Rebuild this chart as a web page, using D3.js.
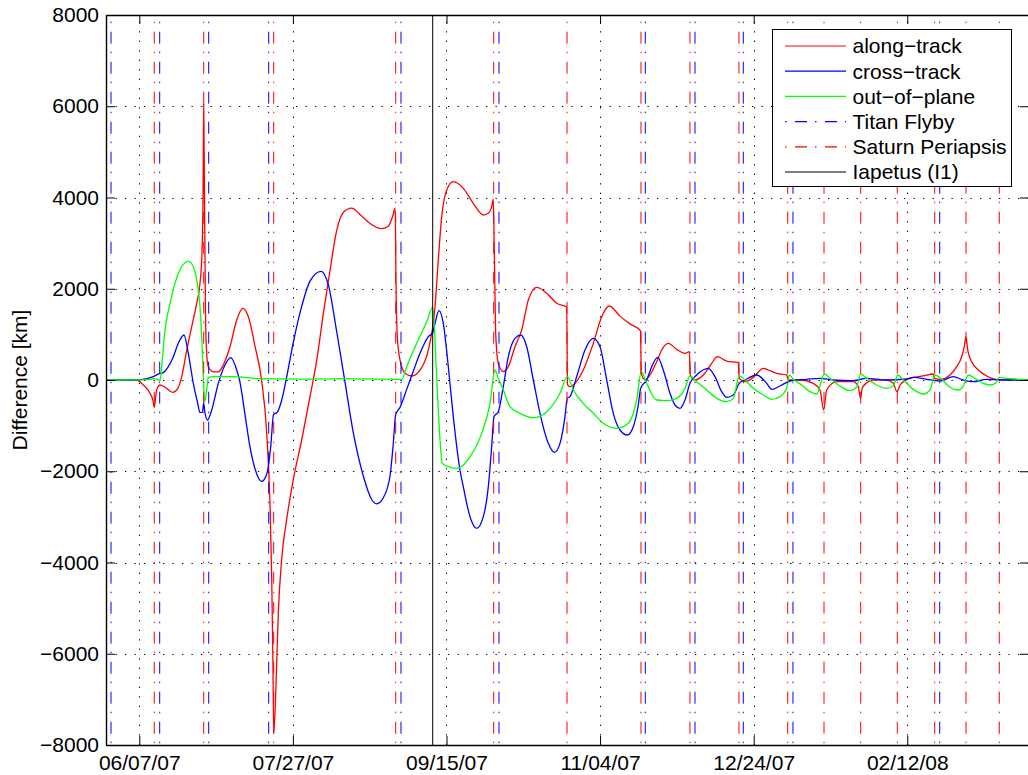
<!DOCTYPE html>
<html>
<head>
<meta charset="utf-8">
<script src="https://cdn.jsdelivr.net/npm/d3@7"></script>
<style>
  body { margin: 0; background: #fff; }
  svg { display: block; }
</style>
</head>
<body>
<svg id="chart" width="1028" height="775"></svg>
<script>
// Time is stored as days after 06/07/07 00:00 UTC
const epoch = Date.UTC(2007, 5, 7);
const xDomainDays = [-10.84, 289.62];
const xTickLabels = ["06/07/07", "07/27/07", "09/15/07", "11/04/07", "12/24/07", "02/12/08"];
const yTicks = [-8000, -6000, -4000, -2000, 0, 2000, 4000, 6000, 8000];

// Event epochs (days after 06/07/07)
const titanFlybyDays = [-9.21, 6.64, 22.59, 42.12, 85.19, 117.09, 164.71, 180.89, 196.61, 212.79, 260.55];
const saturnPeriapsisDays = [4.88, 20.96, 43.75, 83.46, 115.36, 139.23, 163.31, 179.26, 195.21, 211.07, 222.89, 234.83, 246.74, 258.92, 269.11, 279.95];
const iapetusDay = 95.51;

// Position differences [day, km]
const alongTrack = [
  [-10.84,0],[-0.85,0],[1.30,-110],[3.48,-290],[4.46,-450],[4.88,-600],[5.27,-400],[5.76,-200],[6.74,-110],[8.37,-160],
  [10.87,-270],[12.17,-220],[13.80,70],[15.43,650],[17.06,1170],[18.68,1680],[19.76,2120],[20.41,2800],[20.74,4000],[20.96,6050],
  [21.22,4000],[21.55,1500],[21.88,650],[22.46,290],[24.09,180],[25.72,180],[27.34,330],[29.52,730],[31.71,1315],[33.66,1570],
  [35.48,1390],[37.66,745],[39.84,-20],[41.47,-1155],[42.55,-2740],[43.10,-4320],[43.52,-6300],[43.75,-7750],[44.50,-6690],[45.25,-5110],
  [46.35,-3920],[47.98,-3055],[50.13,-2180],[52.86,-1315],[55.57,-365],[57.75,430],[59.90,1455],[62.08,2400],[64.26,3280],[66.41,3670],
  [69.14,3765],[71.84,3630],[75.10,3430],[78.91,3316],[81.05,3371],[82.49,3590],[83.30,3765],[83.56,2120],[83.98,950],[84.86,440],
  [86.49,146],[88.67,88],[91.37,219],[94.08,658],[96.26,1607],[97.33,2630],[98.44,3580],[100.07,4164],[102.21,4347],[105.47,4201],
  [108.72,3872],[111.98,3616],[113.61,3653],[114.71,3799],[115.23,3961],[115.56,2849],[116.02,1023],[116.86,365],[118.49,183],[120.12,292],
  [122.30,730],[124.48,1096],[126.63,1753],[129.36,2031],[132.62,1900],[135.87,1681],[139.13,1600],[139.39,-100],[140.20,-146],[141.83,-73],
  [144.53,219],[147.79,803],[150.52,1388],[153.00,1622],[156.48,1400],[159.73,1230],[163.15,1075],[163.41,150],[164.62,0],[166.24,110],
  [168.42,400],[170.05,658],[172.20,804],[174.93,672],[177.64,585],[179.04,621],[179.36,110],[180.89,0],[183.59,110],[186.33,365],
  [188.15,511],[191.21,416],[194.99,380],[195.31,37],[197.17,-37],[199.87,58],[203.13,256],[204.75,219],[207.49,146],[210.74,110],
  [211.26,0],[215.07,0],[219.40,-73],[221.58,-219],[222.79,-658],[223.76,-219],[227.02,-37],[232.42,-37],[234.05,-146],[234.77,-402],
  [235.42,-160],[238.93,0],[243.29,0],[245.44,-73],[246.65,-256],[247.62,-110],[250.88,37],[255.21,88],[258.46,131],[258.92,37],
  [260.64,15],[263.89,110],[266.08,292],[267.71,511],[268.55,730],[269.11,950],[269.66,658],[270.96,402],[273.11,219],[275.85,88],
  [279.10,15],[289.62,0]
];

const crossTrack = [
  [-10.84,0],[-0.85,0],[2.41,29],[4.56,73],[6.18,131],[7.81,161],[9.44,292],[11.07,511],[12.70,804],[14.55,986],
  [15.95,585],[17.58,-73],[19.01,-511],[19.76,-716],[20.57,-700],[20.96,-500],[21.22,-650],[22.20,-877],[23.57,-658],[25.72,-73],
  [27.90,329],[29.75,489],[31.71,219],[32.78,-50],[34.41,-760],[36.03,-1468],[37.66,-1946],[39.84,-2223],[41.47,-2065],[42.77,-1468],
  [43.69,-760],[44.92,-704],[46.35,-443],[47.98,70],[50.13,822],[52.86,1613],[55.57,2168],[59.15,2382],[61.52,2089],[64.26,1061],
  [66.96,-48],[69.66,-1155],[72.92,-2104],[75.65,-2619],[77.28,-2713],[79.43,-2580],[81.61,-2104],[82.68,-1392],[83.46,-760],[84.86,-601],
  [87.04,-206],[89.19,191],[91.37,584],[94.08,950],[95.51,1037],[96.26,1242],[97.56,1519],[98.96,1242],[100.59,292],[102.21,-803],
  [104.39,-1973],[105.47,-2338],[107.65,-2996],[109.83,-3251],[111.98,-2996],[113.61,-2338],[114.71,-1461],[115.46,-803],[116.86,-694],[118.49,-146],
  [120.12,511],[122.30,913],[124.15,986],[126.11,730],[128.26,0],[130.44,-730],[133.14,-1388],[135.09,-1585],[136.95,-1388],[138.57,-803],
  [139.32,-402],[140.20,-365],[142.38,73],[145.08,658],[147.79,913],[149.97,730],[152.15,0],[154.30,-730],[156.48,-1096],[158.85,-1205],
  [160.81,-1023],[162.43,-548],[163.22,-180],[165.17,0],[166.80,292],[168.75,497],[170.57,219],[172.75,-292],[174.38,-548],[176.01,-621],
  [177.64,-438],[179.26,-73],[181.45,110],[185.22,256],[187.40,73],[189.58,-256],[191.21,-380],[193.36,-329],[195.31,-73],[197.17,0],
  [200.98,110],[204.23,-73],[205.86,-205],[208.56,-132],[211.82,-22],[217.25,15],[221.58,37],[225.91,0],[232.42,-15],[236.78,37],
  [243.29,0],[249.80,22],[251.95,58],[256.32,15],[260.64,-22],[264.97,73],[268.23,0],[271.48,-37],[275.85,15],[280.18,0],
  [289.62,0]
];

const outOfPlane = [
  [-10.84,0],[3.48,10],[4.56,29],[5.66,20],[6.74,-15],[7.29,292],[8.37,1096],[10.03,1681],[11.62,2119],[13.80,2484],
  [15.95,2601],[17.58,2484],[18.88,2119],[19.76,1607],[20.41,804],[20.83,73],[21.29,-475],[21.94,-219],[22.46,58],[24.09,73],
  [30.60,73],[39.29,29],[52.31,20],[65.33,30],[78.35,20],[85.42,15],[87.04,292],[90.30,804],[93.55,1278],[95.51,1593],
  [96.81,50],[97.88,-1300],[98.63,-1826],[100.59,-1900],[103.32,-1936],[105.47,-1863],[107.65,-1680],[111.46,-1169],[114.16,-511],[115.79,219],
  [116.86,37],[118.49,-219],[120.67,-584],[123.93,-730],[128.26,-826],[132.62,-694],[136.95,-292],[139.32,73],[141.28,-219],[144.53,-511],
  [147.79,-730],[151.04,-949],[155.40,-1059],[159.18,-949],[161.91,-438],[163.41,183],[165.17,-73],[167.32,-365],[168.42,-438],[171.68,-453],
  [174.93,-402],[177.64,-183],[179.26,88],[181.45,-37],[184.70,-219],[187.96,-402],[191.21,-475],[193.36,-402],[195.31,88],[197.17,0],
  [199.87,-183],[203.13,-329],[205.86,-424],[208.56,-365],[210.74,-183],[211.59,110],[212.89,15],[215.62,-110],[218.33,-256],[220.51,-307],
  [222.98,131],[224.84,37],[228.09,-132],[231.35,-234],[233.53,-160],[234.83,131],[236.78,37],[240.04,-110],[243.29,-183],[245.44,-132],
  [246.88,110],[248.70,0],[251.95,-205],[255.21,-307],[257.39,-219],[259.02,110],[261.20,15],[263.89,-160],[266.60,-219],[268.23,-132],
  [269.86,110],[272.04,37],[274.74,-73],[276.92,-110],[278.87,-58],[279.95,58],[282.36,37],[286.69,15],[289.62,0]
];

const legendLabels = ["along\u2212track", "cross\u2212track", "out\u2212of\u2212plane", "Titan Flyby", "Saturn Periapsis", "Iapetus (I1)"];

// ---------------------------------------------------------------
const FONT = "'Liberation Sans', Arial, Helvetica, sans-serif";
const FONT_SIZE = 21;
const plot = { left: 106, top: 15, right: 1029, bottom: 745 };
const dayToDate = d => new Date(epoch + d * 864e5);
const parseTick = d3.utcParse("%m/%d/%y");
const xTickDates = xTickLabels.map(parseTick);

const x = d3.scaleUtc()
  .domain(xDomainDays.map(dayToDate))
  .range([plot.left, plot.right]);
const y = d3.scaleLinear()
  .domain([-8000, 8000])
  .range([plot.bottom, plot.top]);

const svg = d3.select("#chart");
svg.append("rect").attr("width", 1028).attr("height", 775).attr("fill", "#fff");

svg.append("defs").append("clipPath").attr("id", "plotClip")
  .append("rect")
  .attr("x", plot.left).attr("y", plot.top)
  .attr("width", plot.right - plot.left).attr("height", plot.bottom - plot.top);

// Dotted grid
const grid = svg.append("g").attr("stroke", "#000").attr("stroke-width", 1)
  .attr("stroke-dasharray", "1.3,8.2");
grid.selectAll("line.v").data(xTickDates).join("line")
  .attr("x1", d => Math.round(x(d)) + 0.5).attr("x2", d => Math.round(x(d)) + 0.5)
  .attr("y1", plot.bottom).attr("y2", plot.top);
grid.selectAll("line.h").data(yTicks.slice(1, -1)).join("line")
  .attr("y1", d => Math.round(y(d)) + 0.5).attr("y2", d => Math.round(y(d)) + 0.5)
  .attr("x1", plot.left).attr("x2", plot.right);

// Difference curves
const line = d3.line()
  .x(d => x(dayToDate(d[0])))
  .y(d => y(d[1]))
  .curve(d3.curveMonotoneX);

const series = [
  { data: alongTrack, color: "#ff0000" },
  { data: crossTrack, color: "#0000ff" },
  { data: outOfPlane, color: "#00ff00" }
];
const curves = svg.append("g").attr("clip-path", "url(#plotClip)");
curves.selectAll("path").data(series).join("path")
  .attr("d", s => line(s.data))
  .attr("fill", "none")
  .attr("stroke", s => s.color)
  .attr("stroke-width", 1.3)
  .attr("stroke-linejoin", "round");

// Event markers
const DASHDOT = "12,8,1.5,8.5";
const events = svg.append("g").attr("clip-path", "url(#plotClip)");
events.selectAll("line.titan").data(titanFlybyDays).join("line")
  .attr("class", "titan")
  .attr("x1", d => x(dayToDate(d))).attr("x2", d => x(dayToDate(d)))
  .attr("y1", plot.top).attr("y2", plot.bottom)
  .attr("stroke", "#0000ff").attr("stroke-width", 1)
  .attr("stroke-dasharray", DASHDOT).attr("stroke-dashoffset", 13.3);
events.selectAll("line.saturn").data(saturnPeriapsisDays).join("line")
  .attr("class", "saturn")
  .attr("x1", d => x(dayToDate(d))).attr("x2", d => x(dayToDate(d)))
  .attr("y1", plot.top).attr("y2", plot.bottom)
  .attr("stroke", "#ff0000").attr("stroke-width", 1)
  .attr("stroke-dasharray", DASHDOT).attr("stroke-dashoffset", 13.3);
events.append("line")
  .attr("x1", x(dayToDate(iapetusDay))).attr("x2", x(dayToDate(iapetusDay)))
  .attr("y1", plot.top).attr("y2", plot.bottom)
  .attr("stroke", "#000").attr("stroke-width", 1);

// Axes (ticks point inward on all four sides)
const fmtY = d => (d < 0 ? "\u2212" + Math.abs(d) : String(d));
function styleAxis(g) {
  g.attr("font-family", FONT).attr("font-size", FONT_SIZE);
  g.selectAll("path.domain").attr("stroke", "#000").attr("stroke-width", 1.4);
  g.selectAll(".tick line").attr("stroke", "#000").attr("stroke-width", 1);
  g.selectAll(".tick text").attr("fill", "#000");
}
svg.append("g").attr("transform", `translate(0,${plot.bottom})`)
  .call(d3.axisBottom(x).tickValues(xTickDates).tickFormat((d, i) => xTickLabels[i])
    .tickSize(-9).tickSizeOuter(0).tickPadding(10))
  .call(styleAxis);
svg.append("g").attr("transform", `translate(0,${plot.top})`)
  .call(d3.axisTop(x).tickValues(xTickDates).tickFormat("")
    .tickSize(-9).tickSizeOuter(0))
  .call(styleAxis);
svg.append("g").attr("transform", `translate(${plot.left},0)`)
  .call(d3.axisLeft(y).tickValues(yTicks).tickFormat(fmtY)
    .tickSize(-9).tickSizeOuter(0).tickPadding(7))
  .call(styleAxis);
svg.append("g").attr("transform", `translate(${plot.right},0)`)
  .call(d3.axisRight(y).tickValues(yTicks).tickFormat("")
    .tickSize(-9).tickSizeOuter(0))
  .call(styleAxis);

// Y axis title
svg.append("text")
  .attr("transform", `translate(27,${(plot.top + plot.bottom) / 2}) rotate(-90)`)
  .attr("text-anchor", "middle")
  .attr("font-family", FONT).attr("font-size", FONT_SIZE)
  .text("Difference [km]");

// Legend
const legendItems = [
  { color: "#ff0000", dash: null },
  { color: "#0000ff", dash: null },
  { color: "#00ff00", dash: null },
  { color: "#0000ff", dash: DASHDOT },
  { color: "#ff0000", dash: DASHDOT },
  { color: "#000000", dash: null }
].map((d, i) => ({ ...d, label: legendLabels[i] }));

const lg = svg.append("g").attr("transform", "translate(772.5,29.5)");
lg.append("rect").attr("width", 239).attr("height", 157)
  .attr("fill", "#fff").attr("stroke", "#000").attr("stroke-width", 1);
const rows = lg.selectAll("g.row").data(legendItems).join("g")
  .attr("class", "row")
  .attr("transform", (d, i) => `translate(0,${16.5 + i * 25.2})`);
rows.append("line")
  .attr("x1", 12.5).attr("x2", 73.5).attr("y1", 0).attr("y2", 0)
  .attr("stroke", d => d.color).attr("stroke-width", 1.2)
  .attr("stroke-dasharray", d => d.dash)
  .attr("stroke-dashoffset", d => d.dash ? 20 : null);
rows.append("text")
  .attr("x", 80).attr("y", 7.3)
  .attr("font-family", FONT).attr("font-size", FONT_SIZE)
  .text(d => d.label);
</script>
</body>
</html>
